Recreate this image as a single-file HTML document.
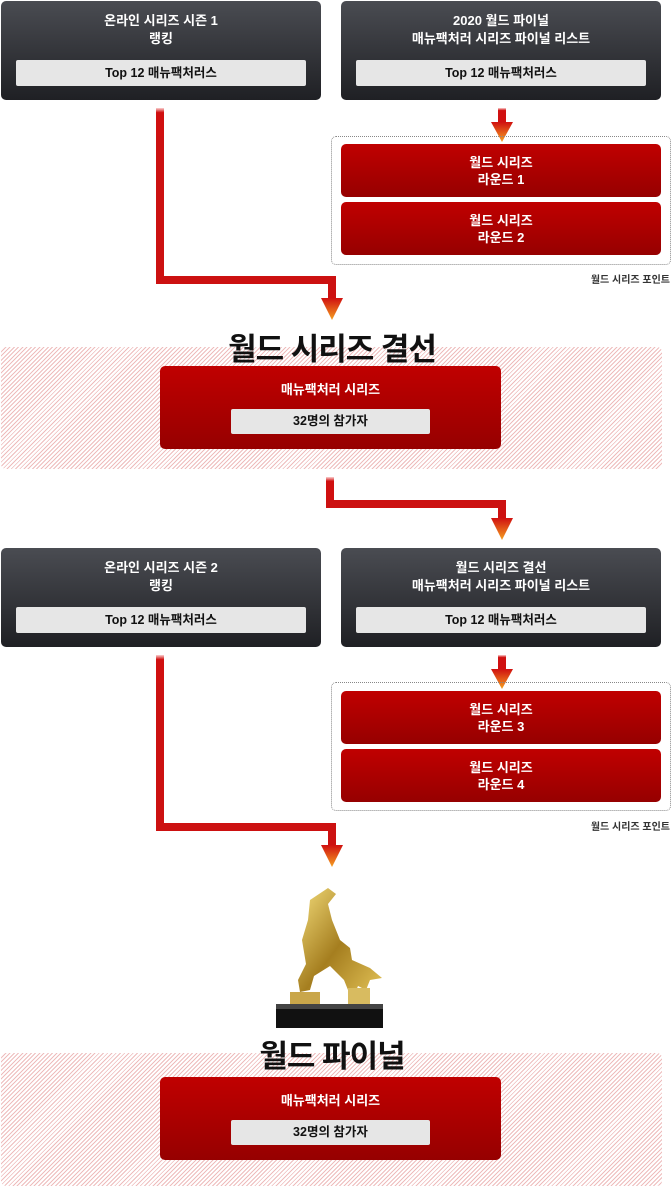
<!DOCTYPE html>
<html><head><meta charset="utf-8"><style>
*{margin:0;padding:0;box-sizing:border-box}
body{width:672px;height:1187px;position:relative;background:#fff;font-family:"Liberation Sans","Noto Sans CJK KR",sans-serif;overflow:hidden}
.a{position:absolute}
.dark{position:absolute;width:320px;height:99px;border-radius:5px;background:linear-gradient(#4a4c52,#1f2024);color:#fff;font-weight:bold;font-size:13px;text-align:center;line-height:18px;padding-top:11px}
.bar{position:absolute;left:15px;right:15px;top:59px;height:26px;background:#e6e6e6;border-radius:2px;color:#111;line-height:26px;font-size:12.5px}
.red{position:absolute;background:linear-gradient(#c00000,#960000);border-radius:5px;color:#fff;font-weight:bold;text-align:center;font-size:13px}
.rnd{width:320px;height:53px;line-height:17px;padding-top:10px}
.dot{position:absolute;border:1px dotted #888;border-radius:5px}
.pt{position:absolute;font-size:10px;font-weight:bold;color:#333;right:2px}
.hatch{position:absolute;left:1px;width:661px;border-radius:5px;background:repeating-linear-gradient(135deg,#eebcbc 0 1px,#fff 1px 3px)}
.title{position:absolute;left:0;width:664px;text-align:center;font-weight:bold;font-size:31px;color:#111;letter-spacing:-1px}
.fin{width:341px;height:83px;left:160px;padding-top:13px;font-size:13px}
.fin .g{position:absolute;left:71px;width:199px;top:43px;height:25px;background:#e6e6e6;border-radius:2px;color:#111;line-height:25px;font-size:12.5px}
</style></head><body>
<svg class="a" style="left:0;top:0" width="672" height="1187">
<defs>
<linearGradient id="fade" x1="0" y1="0" x2="0" y2="1"><stop offset="0" stop-color="#fbd0d0"/><stop offset="0.15" stop-color="#d01010"/><stop offset="1" stop-color="#d01010"/></linearGradient>
<linearGradient id="head" x1="0" y1="0" x2="0" y2="1"><stop offset="0" stop-color="#d01010"/><stop offset="1" stop-color="#f5a020"/></linearGradient>
</defs>
<g fill="#cc1111">
<rect x="156" y="108" width="8" height="30" fill="url(#fade)"/>
<rect x="156" y="136" width="8" height="148"/><rect x="156" y="276" width="180" height="8"/><rect x="328" y="276" width="8" height="24"/>
<polygon points="321,298 343,298 332,320" fill="url(#head)"/>
<rect x="498" y="108" width="8" height="16" fill="url(#fade)"/>
<polygon points="491,122 513,122 502,142" fill="url(#head)"/>
<rect x="326" y="477" width="8" height="28" fill="url(#fade)"/>
<rect x="326" y="500" width="8" height="8"/><rect x="326" y="500" width="180" height="8"/><rect x="498" y="500" width="8" height="20"/>
<polygon points="491,518 513,518 502,540" fill="url(#head)"/>
<rect x="156" y="655" width="8" height="30" fill="url(#fade)"/>
<rect x="156" y="683" width="8" height="148"/><rect x="156" y="823" width="180" height="8"/><rect x="328" y="823" width="8" height="24"/>
<polygon points="321,845 343,845 332,867" fill="url(#head)"/>
<rect x="498" y="655" width="8" height="16" fill="url(#fade)"/>
<polygon points="491,669 513,669 502,689" fill="url(#head)"/>
</g>
</svg>

<div class="dark" style="left:1px;top:1px">온라인 시리즈 시즌 1<br>랭킹<div class="bar">Top 12 매뉴팩처러스</div></div>
<div class="dark" style="left:341px;top:1px">2020 월드 파이널<br>매뉴팩처러 시리즈 파이널 리스트<div class="bar">Top 12 매뉴팩처러스</div></div>
<div class="dot" style="left:331px;top:136px;width:340px;height:129px"></div>
<div class="red rnd" style="left:341px;top:144px">월드 시리즈<br>라운드 1</div>
<div class="red rnd" style="left:341px;top:202px">월드 시리즈<br>라운드 2</div>
<div class="pt" style="top:271px">월드 시리즈 포인트</div>

<div class="hatch" style="top:347px;height:122px"></div>
<div class="title" style="top:324px">월드 시리즈 결선</div>
<div class="red fin" style="top:366px">매뉴팩처러 시리즈<div class="g">32명의 참가자</div></div>

<div class="dark" style="left:1px;top:548px">온라인 시리즈 시즌 2<br>랭킹<div class="bar">Top 12 매뉴팩처러스</div></div>
<div class="dark" style="left:341px;top:548px">월드 시리즈 결선<br>매뉴팩처러 시리즈 파이널 리스트<div class="bar">Top 12 매뉴팩처러스</div></div>
<div class="dot" style="left:331px;top:682px;width:340px;height:129px"></div>
<div class="red rnd" style="left:341px;top:691px">월드 시리즈<br>라운드 3</div>
<div class="red rnd" style="left:341px;top:749px">월드 시리즈<br>라운드 4</div>
<div class="pt" style="top:818px">월드 시리즈 포인트</div>

<svg class="a" style="left:270px;top:880px" width="120" height="150">
<defs><linearGradient id="gold" x1="0" y1="0" x2="1" y2="1"><stop offset="0" stop-color="#f3dc7a"/><stop offset="0.5" stop-color="#a57e1f"/><stop offset="1" stop-color="#e6c65a"/></linearGradient></defs>
<path d="M40 20 L58 8 L66 14 L58 24 L62 40 L70 60 L80 68 L82 80 L100 88 L112 98 L100 100 L96 110 L88 106 L82 120 L74 100 L60 86 L44 96 L40 110 L30 112 L28 100 L36 84 L32 60 L38 40 Z" fill="url(#gold)"/>
<rect x="20" y="112" width="30" height="12" fill="#c9a64a"/><rect x="78" y="108" width="22" height="16" fill="#d8bb60"/>
<rect x="6" y="124" width="107" height="24" fill="#111"/><rect x="6" y="124" width="107" height="5" fill="#444"/>
</svg>

<div class="hatch" style="top:1053px;height:133px"></div>
<div class="title" style="top:1031px">월드 파이널</div>
<div class="red fin" style="top:1077px">매뉴팩처러 시리즈<div class="g">32명의 참가자</div></div>
</body></html>
